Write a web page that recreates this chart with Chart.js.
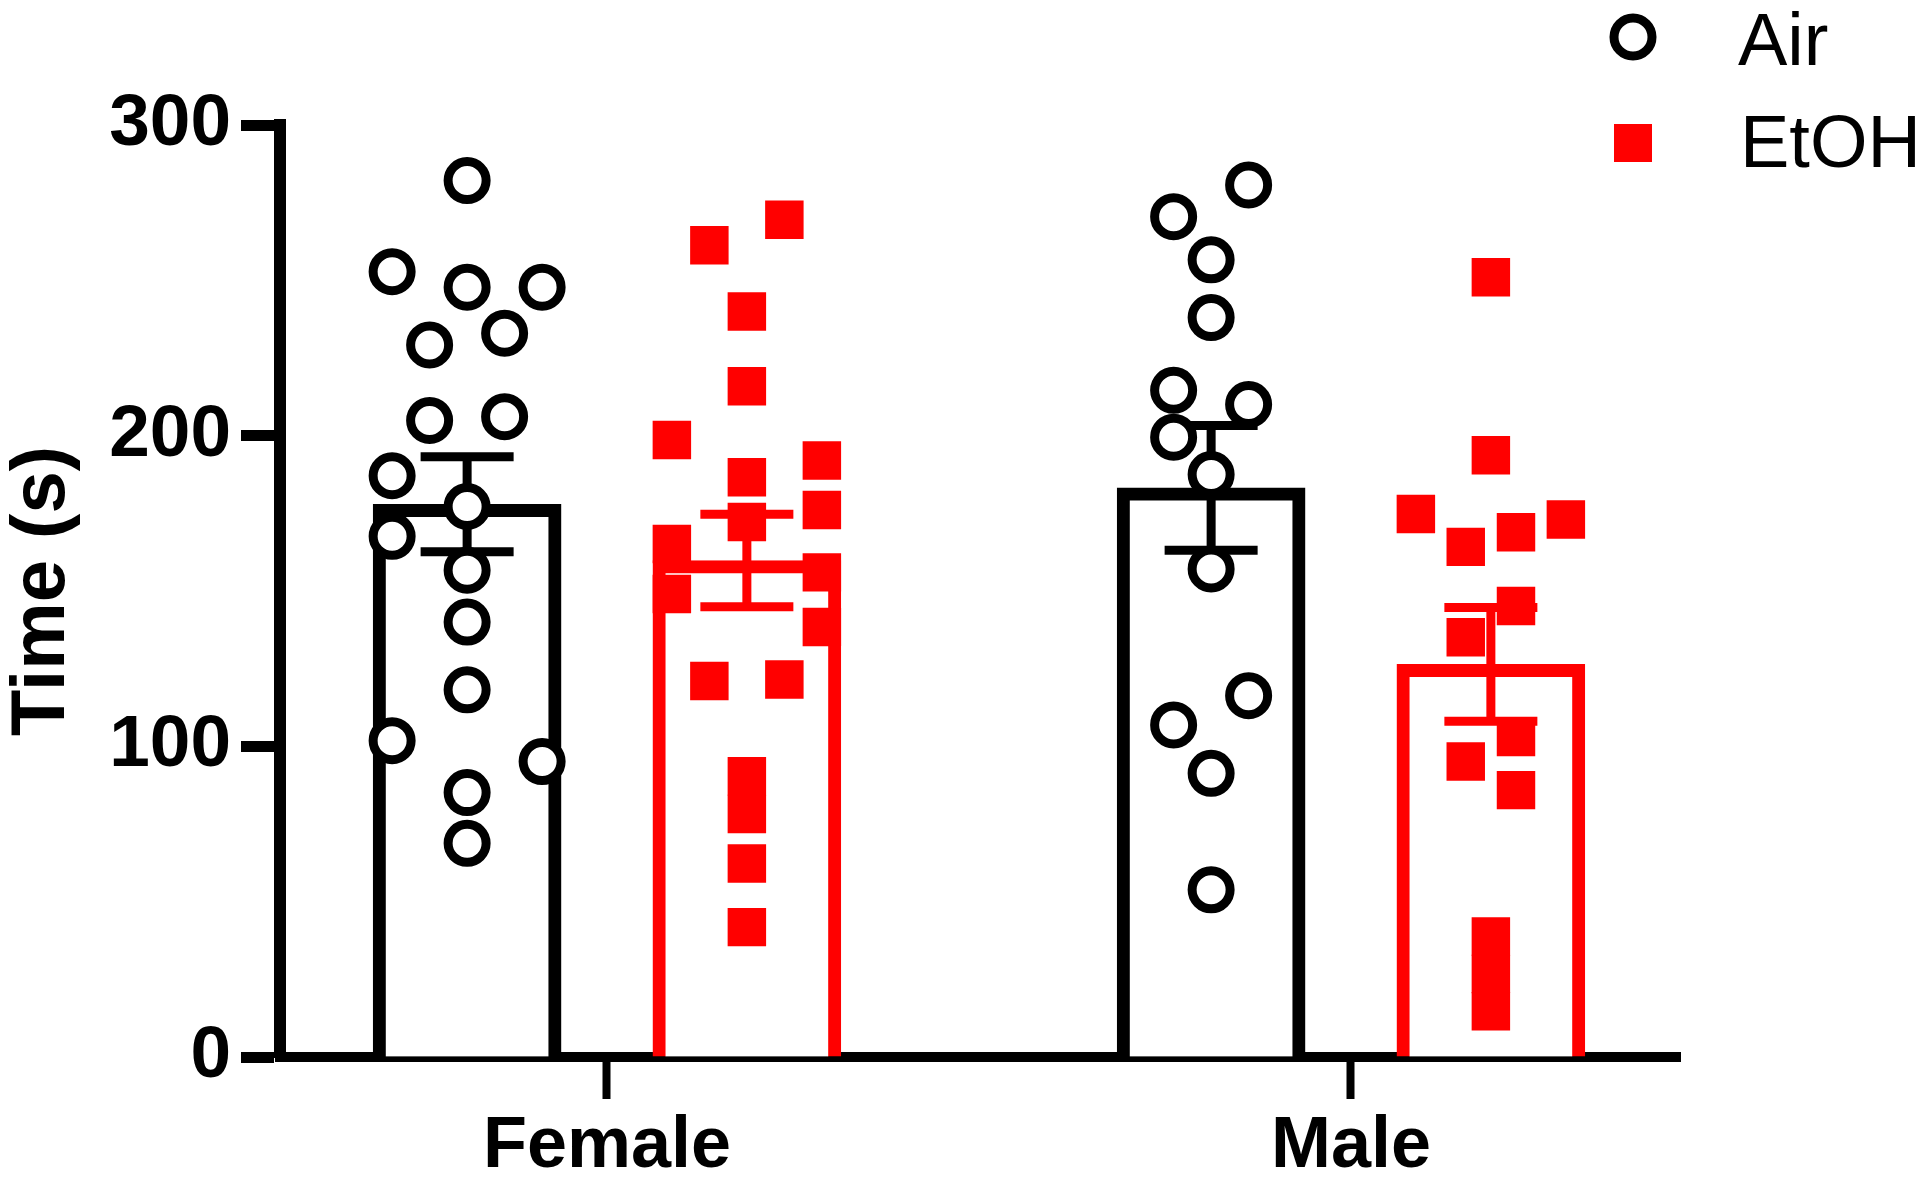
<!DOCTYPE html>
<html><head><meta charset="utf-8">
<script src="https://cdn.jsdelivr.net/npm/chart.js@4.4.1/dist/chart.umd.min.js"></script>
<style>html,body{margin:0;padding:0;background:#fff;} #wrap{width:1920px;height:1185px;position:relative;}</style>
</head><body><div id="wrap"><canvas id="c"></canvas></div>
<script>
// ---- data ----
const categories = ['Female', 'Male'];
const seriesNames = ['Air', 'EtOH'];
const yTicks = [0, 100, 200, 300];

const airMeans = [177.9, 183.2];
const airSem = [15.3, 20.1];
const etohMeans = [159.8, 126.4];
const etohSem = [14.9, 18.3];

const airFemale = [282.1, 252.8, 247.8, 247.8, 229.2, 233.0, 204.9, 206.1, 187.1, 177.2, 167.6, 156.7, 140.0, 118.2, 101.8, 95.1, 85.1, 68.8];
const airFemaleCol = [0, -2, 0, 2, -1, 1, -1, 1, -2, 0, -2, 0, 0, 0, -2, 2, 0, 0];
const etohFemale = [261.3, 269.5, 240.0, 215.9, 198.6, 192.0, 186.6, 176.1, 172.2, 165.1, 149.0, 156.0, 138.4, 121.0, 121.5, 90.4, 78.2, 62.3, 41.8];
const etohFemaleCol = [-1, 1, 0, 0, -2, 2, 0, 2, 0, -2, -2, 2, 2, -1, 1, 0, 0, 0, 0];
const airMale = [280.7, 270.5, 256.6, 238.0, 214.6, 210.0, 199.5, 187.5, 157.1, 116.3, 106.9, 91.3, 53.8];
const airMaleCol = [1, -1, 0, 0, -1, 1, -1, 0, 0, 1, -1, 0, 0];
const etohMale = [251.0, 193.7, 174.8, 164.2, 168.9, 173.0, 145.2, 135.1, 103.0, 95.1, 85.9, 38.8, 26.7, 14.7];
const etohMaleCol = [0, 0, -2, -0.67, 0.67, 2, 0.67, -0.67, 0.67, -0.67, 0.67, 0, 0, 0];

// ---- layout / style ----
const FONT = '"Liberation Sans", Arial, Helvetica, sans-serif';
const BAR_SHIFT = 0.188;
const COL_STEP = 0.0504;
const RED = '#ff0000';

function pts(vals, cols, cat, shift) {
  return vals.map((v, i) => ({ x: cat + shift + cols[i] * COL_STEP, y: v }));
}
function bars(means, shift) {
  return means.map((m, i) => ({ x: i + shift, y: m }));
}

const errorBars = {
  id: 'errorBars',
  afterDatasetDraw(chart, args) {
    const ds = chart.data.datasets[args.index];
    if (!ds.errors) return;
    const ctx = chart.ctx, xs = chart.scales.x, ys = chart.scales.y;
    ctx.save();
    ctx.strokeStyle = ds.borderColor;
    ctx.lineWidth = 9;
    ctx.lineCap = 'butt';
    ds.data.forEach((d, i) => {
      const px = xs.getPixelForValue(d.x);
      const top = ys.getPixelForValue(d.y + ds.errors[i]);
      const bot = ys.getPixelForValue(d.y - ds.errors[i]);
      const hw = 46.5;
      ctx.beginPath();
      ctx.moveTo(px, top); ctx.lineTo(px, bot);
      ctx.moveTo(px - hw, top); ctx.lineTo(px + hw, top);
      ctx.moveTo(px - hw, bot); ctx.lineTo(px + hw, bot);
      ctx.stroke();
    });
    ctx.restore();
  }
};

const customLegend = {
  id: 'customLegend',
  afterDraw(chart) {
    const ctx = chart.ctx;
    ctx.save();
    ctx.beginPath();
    ctx.arc(1633, 37, 19, 0, Math.PI * 2);
    ctx.fillStyle = '#fff'; ctx.fill();
    ctx.lineWidth = 9; ctx.strokeStyle = '#000'; ctx.stroke();
    ctx.fillStyle = RED;
    ctx.fillRect(1614, 124, 38, 38);
    ctx.fillStyle = '#000';
    ctx.font = '74px ' + FONT;
    ctx.textAlign = 'left';
    ctx.textBaseline = 'alphabetic';
    ctx.fillText(seriesNames[0], 1738, 65);
    ctx.fillText(seriesNames[1], 1740, 167);
    ctx.restore();
  }
};

new Chart(document.getElementById('c'), {
  type: 'bar',
  data: {
    datasets: [
      { type: 'scatter', label: seriesNames[0], order: 0,
        data: pts(airFemale, airFemaleCol, 0, -BAR_SHIFT).concat(pts(airMale, airMaleCol, 1, -BAR_SHIFT)),
        pointStyle: 'circle', pointRadius: 19, pointBorderWidth: 9,
        pointBorderColor: '#000', pointBackgroundColor: '#fff' },
      { type: 'scatter', label: seriesNames[1], order: 0,
        data: pts(etohFemale, etohFemaleCol, 0, BAR_SHIFT).concat(pts(etohMale, etohMaleCol, 1, BAR_SHIFT)),
        pointStyle: 'rect', pointRadius: 27.2, pointBorderWidth: 0,
        pointBackgroundColor: RED, pointBorderColor: RED },
      { type: 'bar', label: seriesNames[0] + ' mean', order: 1, grouped: false,
        data: bars(airMeans, -BAR_SHIFT), errors: airSem,
        barThickness: 188, borderWidth: 13, borderSkipped: 'start',
        borderColor: '#000', backgroundColor: '#fff' },
      { type: 'bar', label: seriesNames[1] + ' mean', order: 1, grouped: false,
        data: bars(etohMeans, BAR_SHIFT), errors: etohSem,
        barThickness: 188, borderWidth: 13, borderSkipped: 'start',
        borderColor: RED, backgroundColor: '#fff' }
    ]
  },
  options: {
    responsive: true, maintainAspectRatio: false, animation: false, events: [],
    layout: { padding: { left: 0, top: 125, right: 240, bottom: 0 } },
    plugins: { legend: { display: false }, tooltip: { enabled: false } },
    scales: {
      x: {
        type: 'linear', min: -0.4395, max: 1.4422, z: 1, offset: false,
        afterBuildTicks: s => { s.ticks = categories.map((c, i) => ({ value: i })); },
        afterFit: s => { s.height = 128; },
        ticks: {
          callback: v => categories[v] !== undefined ? categories[v] : '',
          font: { family: FONT, size: 72, weight: 'bold', lineHeight: 1 },
          color: '#000', padding: 12, maxRotation: 0, autoSkip: false
        },
        grid: { offset: false, drawOnChartArea: false, drawTicks: true, tickLength: 42, tickWidth: 8, tickColor: '#000' },
        border: { display: true, width: 10, color: '#000' }
      },
      y: {
        min: 0, max: 300,
        afterBuildTicks: s => { s.ticks = yTicks.map(v => ({ value: v })); },
        afterFit: s => { s.width = 280; },
        ticks: { font: { family: FONT, size: 73, weight: 'bold', lineHeight: 1 }, color: '#000', padding: 10 },
        grid: { drawOnChartArea: false, drawTicks: true, tickLength: 39, tickWidth: 11, tickColor: '#000' },
        border: { display: true, width: 12, color: '#000' },
        title: { display: true, text: 'Time (s)', color: '#000',
          font: { family: FONT, size: 76, weight: 'bold', lineHeight: 1 }, padding: { top: 5, bottom: 0 } }
      }
    }
  },
  plugins: [errorBars, customLegend]
});
</script>
</body></html>
